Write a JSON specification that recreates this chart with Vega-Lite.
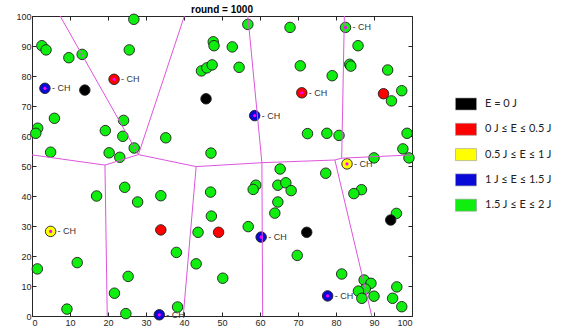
{
  "$schema": "https://vega.github.io/schema/vega-lite/v6.json",
  "autosize": "none",
  "padding": {"left": 32, "top": 16, "right": 153, "bottom": 17},
  "width": 380,
  "height": 300,
  "title": {"text": "round = 1000", "fontSize": 10, "fontWeight": "bold", "font": "Liberation Sans", "color": "#000000", "offset": -3},
  "config": {
    "view": {"stroke": "#262626", "strokeWidth": 1},
    "axis": {"grid": false, "domainColor": "#262626", "tickColor": "#262626", "labelColor": "#262626", "labelFont": "Liberation Sans", "labelFontSize": 9, "title": null, "tickSize": -4, "values": [0, 10, 20, 30, 40, 50, 60, 70, 80, 90, 100]}
  },
  "datasets": {
    "pts": [
      {"x": 92.5, "y": 74.1, "level": "0 J ≤ E ≤ 0.5 J", "ch": false},
      {"x": 26.8, "y": 98.9, "level": "1.5 J ≤ E ≤ 2 J", "ch": false},
      {"x": 2.6, "y": 90.1, "level": "1.5 J ≤ E ≤ 2 J", "ch": false},
      {"x": 3.7, "y": 88.7, "level": "1.5 J ≤ E ≤ 2 J", "ch": false},
      {"x": 9.7, "y": 86.1, "level": "1.5 J ≤ E ≤ 2 J", "ch": false},
      {"x": 13.2, "y": 87.2, "level": "1.5 J ≤ E ≤ 2 J", "ch": false},
      {"x": 25.6, "y": 88.7, "level": "1.5 J ≤ E ≤ 2 J", "ch": false},
      {"x": 5.9, "y": 65.9, "level": "1.5 J ≤ E ≤ 2 J", "ch": false},
      {"x": 1.5, "y": 62.6, "level": "1.5 J ≤ E ≤ 2 J", "ch": false},
      {"x": 1.0, "y": 60.9, "level": "1.5 J ≤ E ≤ 2 J", "ch": false},
      {"x": 4.9, "y": 54.6, "level": "1.5 J ≤ E ≤ 2 J", "ch": false},
      {"x": 24.1, "y": 65.2, "level": "1.5 J ≤ E ≤ 2 J", "ch": false},
      {"x": 19.3, "y": 61.8, "level": "1.5 J ≤ E ≤ 2 J", "ch": false},
      {"x": 23.9, "y": 59.9, "level": "1.5 J ≤ E ≤ 2 J", "ch": false},
      {"x": 26.9, "y": 56.0, "level": "1.5 J ≤ E ≤ 2 J", "ch": false},
      {"x": 20.3, "y": 54.4, "level": "1.5 J ≤ E ≤ 2 J", "ch": false},
      {"x": 23.1, "y": 52.9, "level": "1.5 J ≤ E ≤ 2 J", "ch": false},
      {"x": 35.2, "y": 59.4, "level": "1.5 J ≤ E ≤ 2 J", "ch": false},
      {"x": 47.1, "y": 54.3, "level": "1.5 J ≤ E ≤ 2 J", "ch": false},
      {"x": 44.6, "y": 81.7, "level": "1.5 J ≤ E ≤ 2 J", "ch": false},
      {"x": 46.0, "y": 82.7, "level": "1.5 J ≤ E ≤ 2 J", "ch": false},
      {"x": 47.4, "y": 83.7, "level": "1.5 J ≤ E ≤ 2 J", "ch": false},
      {"x": 47.7, "y": 91.4, "level": "1.5 J ≤ E ≤ 2 J", "ch": false},
      {"x": 47.9, "y": 90.1, "level": "1.5 J ≤ E ≤ 2 J", "ch": false},
      {"x": 56.8, "y": 97.2, "level": "1.5 J ≤ E ≤ 2 J", "ch": false},
      {"x": 67.9, "y": 96.2, "level": "1.5 J ≤ E ≤ 2 J", "ch": false},
      {"x": 52.7, "y": 89.7, "level": "1.5 J ≤ E ≤ 2 J", "ch": false},
      {"x": 85.8, "y": 90.1, "level": "1.5 J ≤ E ≤ 2 J", "ch": false},
      {"x": 54.5, "y": 82.9, "level": "1.5 J ≤ E ≤ 2 J", "ch": false},
      {"x": 70.6, "y": 83.4, "level": "1.5 J ≤ E ≤ 2 J", "ch": false},
      {"x": 79.0, "y": 80.1, "level": "1.5 J ≤ E ≤ 2 J", "ch": false},
      {"x": 83.6, "y": 83.9, "level": "1.5 J ≤ E ≤ 2 J", "ch": false},
      {"x": 83.9, "y": 83.3, "level": "1.5 J ≤ E ≤ 2 J", "ch": false},
      {"x": 93.6, "y": 82.0, "level": "1.5 J ≤ E ≤ 2 J", "ch": false},
      {"x": 97.3, "y": 75.1, "level": "1.5 J ≤ E ≤ 2 J", "ch": false},
      {"x": 94.6, "y": 71.7, "level": "1.5 J ≤ E ≤ 2 J", "ch": false},
      {"x": 72.5, "y": 60.8, "level": "1.5 J ≤ E ≤ 2 J", "ch": false},
      {"x": 77.6, "y": 60.9, "level": "1.5 J ≤ E ≤ 2 J", "ch": false},
      {"x": 80.8, "y": 60.2, "level": "1.5 J ≤ E ≤ 2 J", "ch": false},
      {"x": 98.7, "y": 60.9, "level": "1.5 J ≤ E ≤ 2 J", "ch": false},
      {"x": 97.6, "y": 55.7, "level": "1.5 J ≤ E ≤ 2 J", "ch": false},
      {"x": 99.2, "y": 52.7, "level": "1.5 J ≤ E ≤ 2 J", "ch": false},
      {"x": 90.0, "y": 52.7, "level": "1.5 J ≤ E ≤ 2 J", "ch": false},
      {"x": 65.3, "y": 49.0, "level": "1.5 J ≤ E ≤ 2 J", "ch": false},
      {"x": 77.3, "y": 47.6, "level": "1.5 J ≤ E ≤ 2 J", "ch": false},
      {"x": 47.0, "y": 41.3, "level": "1.5 J ≤ E ≤ 2 J", "ch": false},
      {"x": 58.9, "y": 43.6, "level": "1.5 J ≤ E ≤ 2 J", "ch": false},
      {"x": 58.2, "y": 42.2, "level": "1.5 J ≤ E ≤ 2 J", "ch": false},
      {"x": 64.7, "y": 43.6, "level": "1.5 J ≤ E ≤ 2 J", "ch": false},
      {"x": 66.8, "y": 44.4, "level": "1.5 J ≤ E ≤ 2 J", "ch": false},
      {"x": 68.2, "y": 41.8, "level": "1.5 J ≤ E ≤ 2 J", "ch": false},
      {"x": 64.7, "y": 38.0, "level": "1.5 J ≤ E ≤ 2 J", "ch": false},
      {"x": 63.9, "y": 34.3, "level": "1.5 J ≤ E ≤ 2 J", "ch": false},
      {"x": 47.2, "y": 33.3, "level": "1.5 J ≤ E ≤ 2 J", "ch": false},
      {"x": 56.9, "y": 29.8, "level": "1.5 J ≤ E ≤ 2 J", "ch": false},
      {"x": 43.7, "y": 27.9, "level": "1.5 J ≤ E ≤ 2 J", "ch": false},
      {"x": 69.8, "y": 20.2, "level": "1.5 J ≤ E ≤ 2 J", "ch": false},
      {"x": 50.2, "y": 12.6, "level": "1.5 J ≤ E ≤ 2 J", "ch": false},
      {"x": 86.7, "y": 42.1, "level": "1.5 J ≤ E ≤ 2 J", "ch": false},
      {"x": 84.7, "y": 40.8, "level": "1.5 J ≤ E ≤ 2 J", "ch": false},
      {"x": 95.9, "y": 34.2, "level": "1.5 J ≤ E ≤ 2 J", "ch": false},
      {"x": 81.5, "y": 14.0, "level": "1.5 J ≤ E ≤ 2 J", "ch": false},
      {"x": 87.4, "y": 12.0, "level": "1.5 J ≤ E ≤ 2 J", "ch": false},
      {"x": 89.2, "y": 10.9, "level": "1.5 J ≤ E ≤ 2 J", "ch": false},
      {"x": 87.7, "y": 9.0, "level": "1.5 J ≤ E ≤ 2 J", "ch": false},
      {"x": 85.9, "y": 8.3, "level": "1.5 J ≤ E ≤ 2 J", "ch": false},
      {"x": 86.8, "y": 5.9, "level": "1.5 J ≤ E ≤ 2 J", "ch": false},
      {"x": 90.0, "y": 6.6, "level": "1.5 J ≤ E ≤ 2 J", "ch": false},
      {"x": 96.0, "y": 9.7, "level": "1.5 J ≤ E ≤ 2 J", "ch": false},
      {"x": 94.9, "y": 5.9, "level": "1.5 J ≤ E ≤ 2 J", "ch": false},
      {"x": 97.3, "y": 3.1, "level": "1.5 J ≤ E ≤ 2 J", "ch": false},
      {"x": 17.0, "y": 40.0, "level": "1.5 J ≤ E ≤ 2 J", "ch": false},
      {"x": 24.4, "y": 42.9, "level": "1.5 J ≤ E ≤ 2 J", "ch": false},
      {"x": 27.8, "y": 38.0, "level": "1.5 J ≤ E ≤ 2 J", "ch": false},
      {"x": 33.9, "y": 40.1, "level": "1.5 J ≤ E ≤ 2 J", "ch": false},
      {"x": 38.0, "y": 21.2, "level": "1.5 J ≤ E ≤ 2 J", "ch": false},
      {"x": 43.2, "y": 17.4, "level": "1.5 J ≤ E ≤ 2 J", "ch": false},
      {"x": 1.4, "y": 15.7, "level": "1.5 J ≤ E ≤ 2 J", "ch": false},
      {"x": 11.9, "y": 17.8, "level": "1.5 J ≤ E ≤ 2 J", "ch": false},
      {"x": 9.2, "y": 2.3, "level": "1.5 J ≤ E ≤ 2 J", "ch": false},
      {"x": 25.3, "y": 13.2, "level": "1.5 J ≤ E ≤ 2 J", "ch": false},
      {"x": 21.7, "y": 7.6, "level": "1.5 J ≤ E ≤ 2 J", "ch": false},
      {"x": 24.7, "y": 0.8, "level": "1.5 J ≤ E ≤ 2 J", "ch": false},
      {"x": 38.3, "y": 3.0, "level": "1.5 J ≤ E ≤ 2 J", "ch": false},
      {"x": 82.5, "y": 96.2, "level": "1.5 J ≤ E ≤ 2 J", "ch": true},
      {"x": 13.9, "y": 75.3, "level": "E = 0 J", "ch": false},
      {"x": 45.8, "y": 72.4, "level": "E = 0 J", "ch": false},
      {"x": 72.3, "y": 27.9, "level": "E = 0 J", "ch": false},
      {"x": 94.4, "y": 32.0, "level": "E = 0 J", "ch": false},
      {"x": 33.9, "y": 28.7, "level": "0 J ≤ E ≤ 0.5 J", "ch": false},
      {"x": 49.1, "y": 27.9, "level": "0 J ≤ E ≤ 0.5 J", "ch": false},
      {"x": 21.6, "y": 78.9, "level": "0 J ≤ E ≤ 0.5 J", "ch": true},
      {"x": 71.0, "y": 74.4, "level": "0 J ≤ E ≤ 0.5 J", "ch": true},
      {"x": 82.9, "y": 50.7, "level": "0.5 J ≤ E ≤ 1 J", "ch": true},
      {"x": 4.9, "y": 28.2, "level": "0.5 J ≤ E ≤ 1 J", "ch": true},
      {"x": 3.4, "y": 75.9, "level": "1 J ≤ E ≤ 1.5 J", "ch": true},
      {"x": 58.6, "y": 66.8, "level": "1 J ≤ E ≤ 1.5 J", "ch": true},
      {"x": 60.3, "y": 26.3, "level": "1 J ≤ E ≤ 1.5 J", "ch": true},
      {"x": 33.5, "y": 0.4, "level": "1 J ≤ E ≤ 1.5 J", "ch": true},
      {"x": 77.8, "y": 6.7, "level": "1 J ≤ E ≤ 1.5 J", "ch": true}
    ],
    "edges": [
      {"x": 0, "y": 53.7, "x2": 19.2, "y2": 50.3},
      {"x": 19.2, "y": 50.3, "x2": 28.0, "y2": 53.8},
      {"x": 28.0, "y": 53.8, "x2": 43.2, "y2": 49.8},
      {"x": 43.2, "y": 49.8, "x2": 60.5, "y2": 51.1},
      {"x": 60.5, "y": 51.1, "x2": 79.7, "y2": 52.0},
      {"x": 79.7, "y": 52.0, "x2": 81.5, "y2": 52.6},
      {"x": 81.5, "y": 52.6, "x2": 100, "y2": 53.7},
      {"x": 19.2, "y": 50.3, "x2": 19.8, "y2": 0},
      {"x": 43.2, "y": 49.8, "x2": 39.8, "y2": 0},
      {"x": 60.5, "y": 51.1, "x2": 60.7, "y2": 0},
      {"x": 79.7, "y": 52.0, "x2": 89.4, "y2": 0},
      {"x": 81.5, "y": 52.6, "x2": 82.2, "y2": 100},
      {"x": 60.5, "y": 51.1, "x2": 56.8, "y2": 100},
      {"x": 28.0, "y": 53.8, "x2": 40.1, "y2": 100},
      {"x": 28.0, "y": 53.8, "x2": 7.4, "y2": 100}
    ]
  },
  "layer": [
    {
      "data": {"name": "pts"},
      "mark": {"type": "circle", "size": 110, "opacity": 1, "stroke": "#1e1e1e", "strokeWidth": 0.9, "clip": false},
      "encoding": {
        "x": {"field": "x", "type": "quantitative", "scale": {"domain": [0, 100], "nice": false}, "axis": {"orient": "bottom", "labelPadding": 6}},
        "y": {"field": "y", "type": "quantitative", "scale": {"domain": [0, 100], "nice": false}, "axis": {"orient": "left", "labelPadding": 5}},
        "fill": {
          "field": "level", "type": "nominal",
          "scale": {"domain": ["E = 0 J", "0 J ≤ E ≤ 0.5 J", "0.5 J ≤ E ≤ 1 J", "1 J ≤ E ≤ 1.5 J", "1.5 J ≤ E ≤ 2 J"], "range": ["#000000", "#ff0000", "#ffff00", "#0a0ad8", "#10ee10"]},
          "legend": {"orient": "none", "legendX": 423, "legendY": 77, "title": null, "symbolType": "M-1,-0.571H1V0.571H-1Z", "symbolSize": 441, "symbolStrokeColor": "#999999", "symbolStrokeWidth": 0.6, "symbolOpacity": 1, "labelFont": "Lato", "labelFontSize": 11, "labelColor": "#222222", "labelOffset": 8, "rowPadding": 6.3, "labelLimit": 200}
        }
      }
    },
    {
      "data": {"name": "edges"},
      "mark": {"type": "rule", "color": "#dd55dd", "strokeWidth": 1},
      "encoding": {
        "x": {"field": "x", "type": "quantitative", "axis": {"orient": "top", "labels": false, "domain": false}},
        "y": {"field": "y", "type": "quantitative", "axis": {"orient": "right", "labels": false, "domain": false}},
        "x2": {"field": "x2"},
        "y2": {"field": "y2"}
      }
    },
    {
      "data": {"name": "pts"},
      "transform": [{"filter": "datum.ch"}],
      "mark": {"type": "circle", "size": 10, "color": "#ff00ff", "opacity": 1, "clip": false},
      "encoding": {
        "x": {"field": "x", "type": "quantitative", "axis": null},
        "y": {"field": "y", "type": "quantitative", "axis": null}
      }
    },
    {
      "data": {"name": "pts"},
      "transform": [{"filter": "datum.ch"}],
      "mark": {"type": "text", "text": "- CH", "align": "left", "baseline": "middle", "dx": 7, "fontSize": 9, "font": "Liberation Sans", "color": "#333333", "clip": false},
      "encoding": {
        "x": {"field": "x", "type": "quantitative", "axis": null},
        "y": {"field": "y", "type": "quantitative", "axis": null}
      }
    }
  ],
  "resolve": {"axis": {"x": "independent", "y": "independent"}}
}
